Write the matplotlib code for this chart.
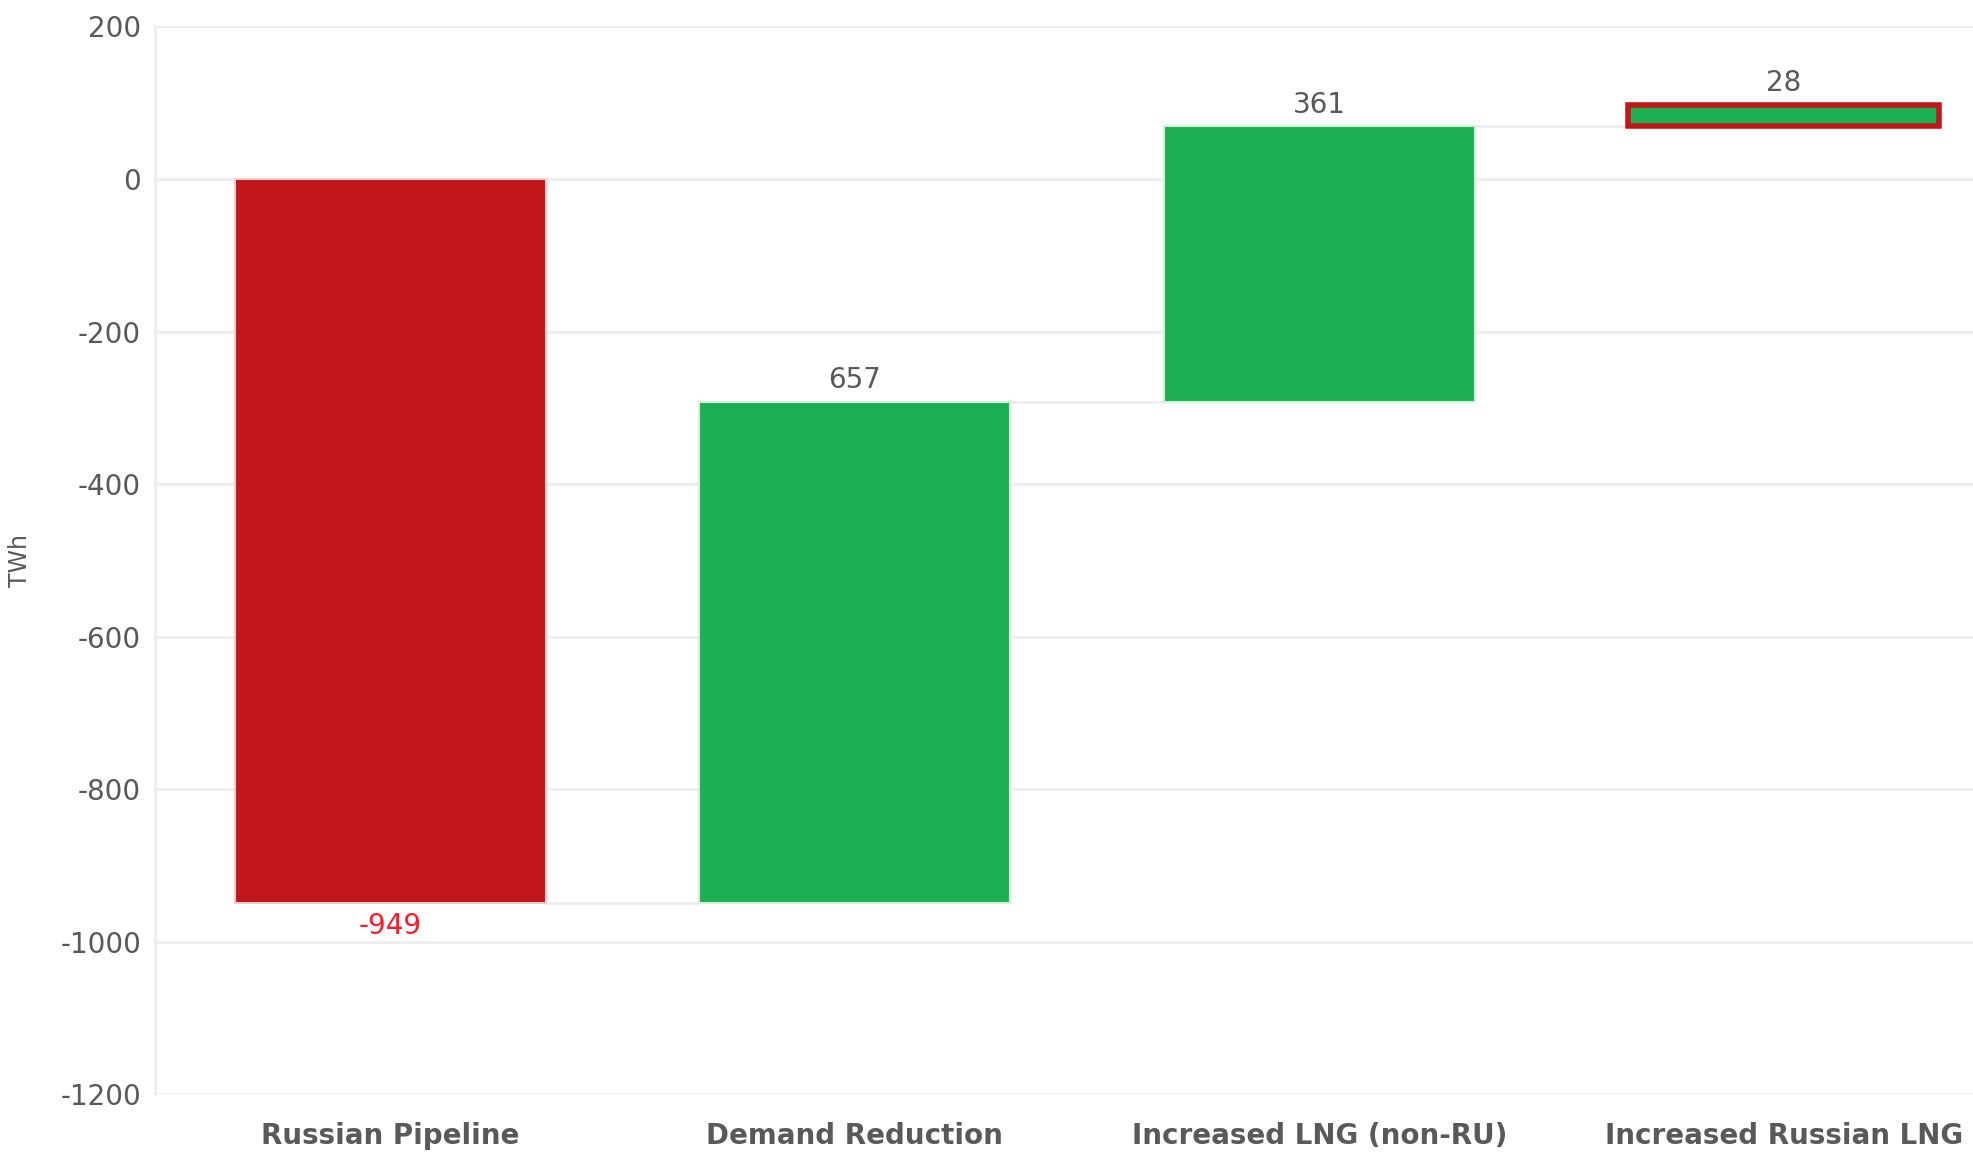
import numpy as np
import matplotlib.pyplot as plt

plt.rcParams['axes.unicode_minus'] = False

categories = ['Russian Pipeline', 'Demand Reduction', 'Increased LNG (non-RU)', 'Increased Russian LNG']
changes = [-949, 657, 361, 28]
labels = ['-949', '657', '361', '28']

RED = '#c0161a'
GREEN = '#1db053'
GREY = '#595959'

# waterfall: each bar starts where the previous one ended
ends = np.cumsum(changes)
starts = ends - np.array(changes)
bottoms = np.minimum(starts, ends)
heights = np.abs(changes)

fig = plt.figure(figsize=(19.74, 11.52), dpi=100)
ax = fig.add_axes([0.0785, 0.050, 0.9215, 0.927])

x = np.arange(len(categories))
faces = [RED, GREEN, GREEN, GREEN]
edges = ['#f3c9ca', '#d4f0dc', '#d4f0dc', RED]
widths = [1.5, 1.5, 1.5, 4]
ax.bar(x, heights, bottom=bottoms, width=0.67, color=faces,
       edgecolor=edges, linewidth=widths, zorder=3)

# connector lines between bars
for i in range(len(categories) - 1):
    ax.plot([x[i] + 0.335, x[i + 1] - 0.335], [ends[i], ends[i]],
            color='#ececec', lw=2, zorder=2)

# value labels
for i, (s, e, lab) in enumerate(zip(starts, ends, labels)):
    if changes[i] < 0:
        ax.text(x[i], e - 12, lab, ha='center', va='top', fontsize=20, color='#ff1a2a')
    else:
        ax.text(x[i], e + 10, lab, ha='center', va='bottom', fontsize=20, color=GREY)

ax.set_xlim(-0.507, 3.41)
ax.set_ylim(-1200, 200)
ax.set_yticks(np.arange(-1200, 201, 200))
ax.set_xticks(x)
ax.set_xticklabels(categories, fontsize=20, fontweight='bold', color=GREY)
ax.tick_params(axis='y', labelsize=20, labelcolor=GREY, length=0, pad=10)
ax.tick_params(axis='x', length=0, pad=20)
ax.grid(axis='y', color='#eeeeee', lw=2, zorder=0)
for sp in ['top', 'right', 'bottom']:
    ax.spines[sp].set_visible(False)
ax.spines['left'].set_color('#eeeeee')
ax.spines['left'].set_linewidth(2)
ax.set_ylabel('TWh', fontsize=17, color=GREY, labelpad=20)

fig.savefig('out.png', dpi=100)
